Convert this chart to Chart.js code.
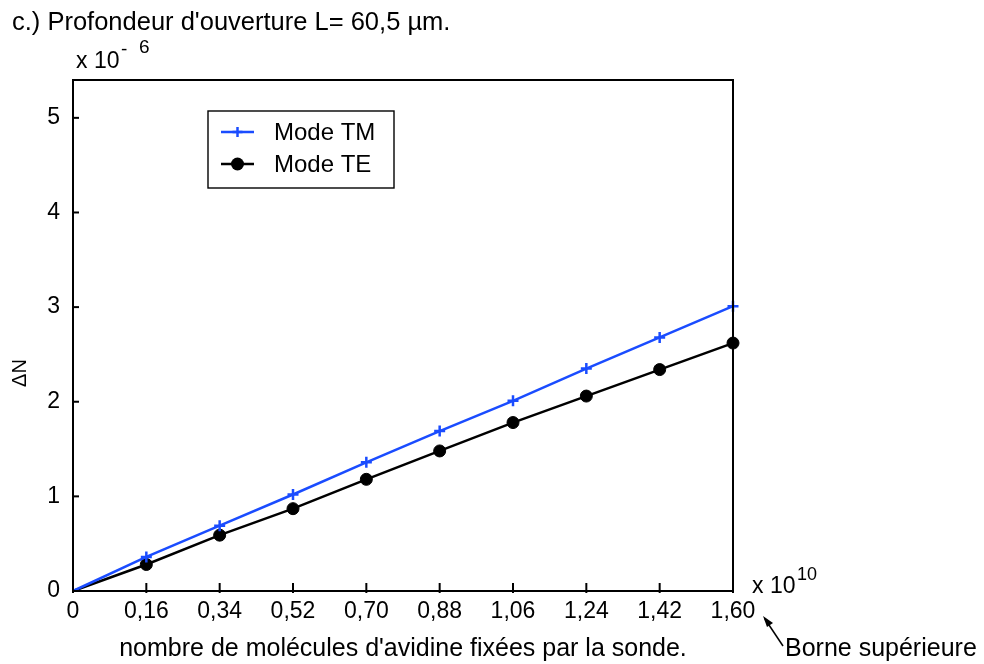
<!DOCTYPE html>
<html>
<head>
<meta charset="utf-8">
<script src="https://cdn.jsdelivr.net/npm/chart.js@4.4.1/dist/chart.umd.min.js"></script>
<style>
html, body { margin: 0; padding: 0; background: #fff; }
canvas { display: block; }
</style>
</head>
<body>
<canvas id="chart" width="984" height="664"></canvas>
<script>
// x axis categories (x 10^10 molecules)
const categories = ['0', '0,16', '0,34', '0,52', '0,70', '0,88', '1,06', '1,24', '1,42', '1,60'];
// delta N (x 10^-6)
const modeTM = [0, 0.36, 0.69, 1.02, 1.36, 1.69, 2.01, 2.35, 2.68, 3.01];
const modeTE = [0, 0.28, 0.59, 0.87, 1.18, 1.48, 1.78, 2.06, 2.34, 2.62];
const yTicks = [0, 1, 2, 3, 4, 5];
const yMax = 5.4;

const FONT = '"Liberation Sans", Arial, Helvetica, sans-serif';
const BLUE = '#1a4cff';

function line(ctx, x1, y1, x2, y2) {
    ctx.beginPath();
    ctx.moveTo(x1, y1);
    ctx.lineTo(x2, y2);
    ctx.stroke();
}

const overlay = {
    id: 'overlay',
    afterDraw(chart) {
        const ctx = chart.ctx;
        const a = chart.chartArea;
        const xs = chart.scales.x, ys = chart.scales.y;
        ctx.save();
        ctx.strokeStyle = '#000';
        ctx.fillStyle = '#000';

        // box round the plot
        ctx.lineWidth = 2;
        ctx.strokeRect(a.left, a.top, a.right - a.left, a.bottom - a.top);

        // ticks pointing inward
        xs.ticks.forEach((t, i) => {
            const px = xs.getPixelForTick(i);
            line(ctx, px, a.bottom + 2, px, a.bottom - 8);
        });
        ys.ticks.forEach((t, i) => {
            const py = ys.getPixelForTick(i);
            line(ctx, a.left, py, a.left + 6, py);
        });

        ctx.textBaseline = 'alphabetic';
        ctx.textAlign = 'left';

        // title
        ctx.font = '25.5px ' + FONT;
        ctx.fillText("c.) Profondeur d'ouverture L= 60,5 µm.", 12, 30);

        // y multiplier
        ctx.font = '23px ' + FONT;
        ctx.fillText('x 10', 76, 68);
        ctx.font = '19px ' + FONT;
        ctx.fillText('-', 121, 55);
        ctx.fillText('6', 139, 53);

        // x multiplier
        ctx.font = '23px ' + FONT;
        ctx.fillText('x 10', 752, 593);
        ctx.font = '18px ' + FONT;
        ctx.fillText('10', 797, 580);

        // y axis title
        ctx.save();
        ctx.translate(20, 373);
        ctx.rotate(-Math.PI / 2);
        ctx.textAlign = 'center';
        ctx.textBaseline = 'middle';
        ctx.font = '20px ' + FONT;
        ctx.fillText('\u0394N', 0, 0);
        ctx.restore();

        // annotation with arrow
        ctx.font = '25px ' + FONT;
        ctx.fillText('Borne supérieure', 785, 656);
        ctx.lineWidth = 1.5;
        line(ctx, 783, 646, 765, 619);
        ctx.beginPath();
        ctx.moveTo(763, 616);
        ctx.lineTo(773, 623);
        ctx.lineTo(767, 627);
        ctx.closePath();
        ctx.fill();

        // legend
        const lx = 208, ly = 111, lw = 186, lh = 77;
        ctx.fillStyle = '#fff';
        ctx.fillRect(lx, ly, lw, lh);
        ctx.fillStyle = '#000';
        ctx.lineWidth = 1.4;
        ctx.strokeRect(lx, ly, lw, lh);
        const rows = [132, 164];
        chart.data.datasets.forEach((ds, i) => {
            const y = rows[i];
            ctx.strokeStyle = ds.borderColor;
            ctx.fillStyle = ds.borderColor;
            ctx.lineWidth = 2.5;
            line(ctx, 221, y, 254, y);
            const cx = 237.5;
            if (ds.pointStyle === 'cross') {
                line(ctx, cx - 5, y, cx + 5, y);
                line(ctx, cx, y - 5, cx, y + 5);
            } else {
                ctx.beginPath();
                ctx.arc(cx, y, 6.5, 0, Math.PI * 2);
                ctx.fill();
            }
            ctx.fillStyle = '#000';
            ctx.textBaseline = 'middle';
            ctx.font = '24px ' + FONT;
            ctx.fillText(ds.label, 274, y + 1);
        });
        ctx.restore();
    }
};

new Chart(document.getElementById('chart'), {
    type: 'line',
    data: {
        labels: categories,
        datasets: [
            {
                label: 'Mode TM',
                data: modeTM,
                borderColor: BLUE,
                backgroundColor: BLUE,
                borderWidth: 2.5,
                pointStyle: 'cross',
                pointRadius: (c) => c.dataIndex === 0 ? 0 : 5.5,
                pointBorderWidth: 2.5,
                tension: 0,
                clip: false
            },
            {
                label: 'Mode TE',
                data: modeTE,
                borderColor: '#000',
                backgroundColor: '#000',
                borderWidth: 2.5,
                pointStyle: 'circle',
                pointRadius: (c) => c.dataIndex === 0 ? 0 : 6,
                pointBorderWidth: 1,
                tension: 0,
                clip: false
            }
        ]
    },
    options: {
        responsive: false,
        animation: false,
        devicePixelRatio: 1,
        layout: { padding: { left: 0, top: 80, right: 251, bottom: 0 } },
        plugins: {
            legend: { display: false },
            tooltip: { enabled: false }
        },
        scales: {
            x: {
                type: 'category',
                offset: false,
                grid: { display: false, drawTicks: false },
                border: { display: true, color: '#000', width: 2 },
                ticks: {
                    color: '#000',
                    font: { family: FONT, size: 23 },
                    padding: 7,
                    maxRotation: 0,
                    autoSkip: false
                },
                title: {
                    display: true,
                    text: "nombre de molécules d'avidine fixées par la sonde.",
                    color: '#000',
                    font: { family: FONT, size: 25 },
                    padding: { top: 4, bottom: 0 }
                },
                afterFit(scale) { scale.height = 73; }
            },
            y: {
                min: 0,
                max: yMax,
                grid: { display: false, drawTicks: false },
                border: { display: true, color: '#000', width: 2 },
                ticks: {
                    color: '#000',
                    font: { family: FONT, size: 23 },
                    padding: 13
                },
                afterBuildTicks(scale) {
                    scale.ticks = yTicks.map(v => ({ value: v }));
                },
                afterFit(scale) { scale.width = 73; }
            }
        }
    },
    plugins: [overlay]
});
</script>
</body>
</html>
